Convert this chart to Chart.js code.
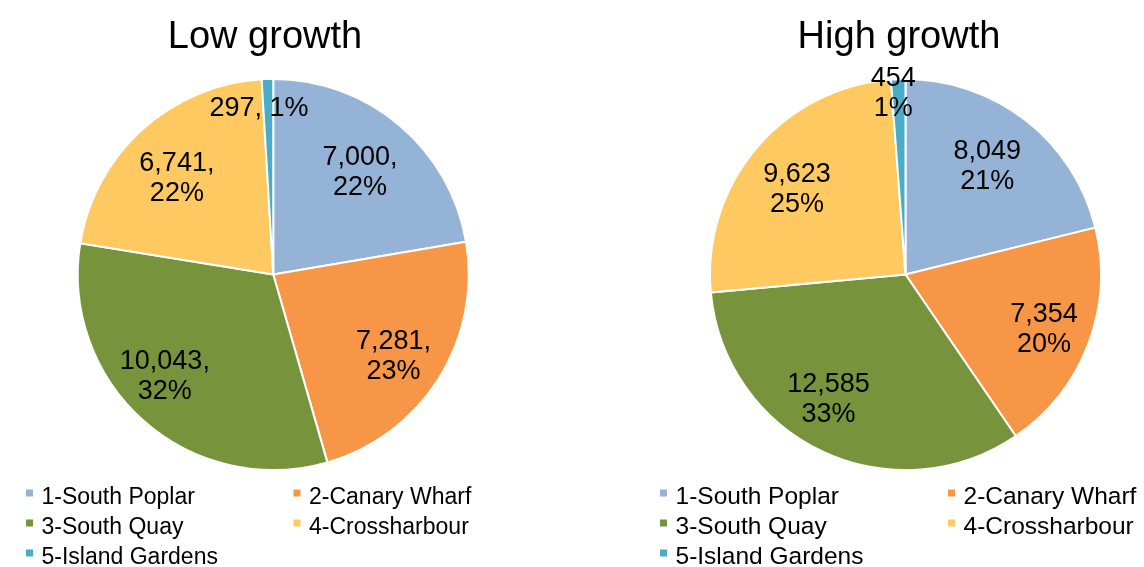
<!DOCTYPE html>
<html>
<head>
<meta charset="utf-8">
<script src="https://cdn.jsdelivr.net/npm/chart.js@4/dist/chart.umd.min.js"></script>
<style>
  html, body { margin: 0; padding: 0; background: #fff; }
  #wrap { position: relative; width: 1144px; height: 567px; }
  .box { position: absolute; top: 0; width: 572px; height: 567px; }
</style>
</head>
<body>
<div id="wrap">
  <div class="box" style="left:0"><canvas id="lowChart" width="572" height="567"></canvas></div>
  <div class="box" style="left:572px"><canvas id="highChart" width="572" height="567"></canvas></div>
</div>
<script>
/* ---------- DATA ---------- */
const categories = ['1-South Poplar', '2-Canary Wharf', '3-South Quay', '4-Crossharbour', '5-Island Gardens'];
const lowValues = [7000, 7281, 10043, 6741, 297];
const lowPercents = [22, 23, 32, 22, 1];
const highValues = [8049, 7354, 12585, 9623, 454];
const highPercents = [21, 20, 33, 25, 1];
const sliceColors = ['#95B3D7', '#F79646', '#77933C', '#FFC962', '#4BACC6'];

const FONT = '"Liberation Sans", Arial, sans-serif';

/* ---------- TITLE, SLICE LABELS, LEGEND (drawn like Excel) ---------- */
function decor(cfg) {
  return {
    id: 'decor',
    afterDraw(chart) {
      const ctx = chart.ctx;
      const ds = chart.data.datasets[0];
      const meta = chart.getDatasetMeta(0);
      ctx.save();
      ctx.fillStyle = '#000';

      // title
      ctx.font = '38px ' + FONT;
      ctx.textAlign = 'center';
      ctx.textBaseline = 'alphabetic';
      ctx.fillText(cfg.title, cfg.titleX, 48);

      // data labels: value + percent near each slice's middle
      ctx.font = '27px ' + FONT;
      ctx.textBaseline = 'middle';
      meta.data.forEach((arc, i) => {
        const p = arc.getProps(['x', 'y', 'startAngle', 'endAngle', 'outerRadius'], true);
        const mid = (p.startAngle + p.endAngle) / 2;
        const r = p.outerRadius * 0.72;
        const [dx, dy] = cfg.labelShift[i];
        const cx = p.x + Math.cos(mid) * r + dx;
        const cy = p.y + Math.sin(mid) * r + dy;
        const lines = cfg.labelLines(ds.data[i].toLocaleString('en-US'), cfg.percents[i] + '%');
        lines.forEach((t, k) => ctx.fillText(t, cx, cy + (k - (lines.length - 1) / 2) * 30));
      });

      // legend, two columns
      ctx.font = cfg.legendSize + 'px ' + FONT;
      ctx.textAlign = 'left';
      ctx.textBaseline = 'alphabetic';
      chart.data.labels.forEach((lab, i) => {
        const x = cfg.legendX[i % 2];
        const base = 503.5 + Math.floor(i / 2) * 30;
        ctx.fillStyle = ds.backgroundColor[i];
        ctx.fillRect(x, base - 14, 7, 7);
        ctx.fillStyle = '#000';
        ctx.fillText(lab, x + 15.5, base);
      });
      ctx.restore();
    }
  };
}

function makePie(id, values, padding, cfg) {
  return new Chart(document.getElementById(id), {
    type: 'pie',
    data: {
      labels: categories,
      datasets: [{
        data: values,
        backgroundColor: sliceColors,
        borderColor: '#fff',
        borderWidth: 2
      }]
    },
    options: {
      responsive: false,
      animation: false,
      layout: { padding },
      plugins: {
        legend: { display: false },
        title: { display: false },
        tooltip: { enabled: false }
      }
    },
    plugins: [decor(cfg)]
  });
}

/* ---------- INIT ---------- */
makePie('lowChart', lowValues, { top: 78, bottom: 96, left: 60, right: 85.5 }, {
  title: 'Low growth',
  titleX: 265,
  percents: lowPercents,
  legendX: [26, 293.5],
  legendSize: 23,
  labelShift: [[-4, 6], [1, 7], [-15, -3], [-2, 8], [-10, -25]],
  labelLines: (v, p) => (parseInt(p) < 2 ? [v + ', ' + p] : [v + ',', p])
});

makePie('highChart', highValues, { top: 78, bottom: 96, left: 130, right: 35 }, {
  title: 'High growth',
  titleX: 327,
  percents: highPercents,
  legendX: [88, 376],
  legendSize: 24.5,
  labelShift: [[-5, 3], [7, 5], [-17, -2], [-1, 6], [-7, -40]],
  labelLines: (v, p) => [v, p]
});
</script>
</body>
</html>
